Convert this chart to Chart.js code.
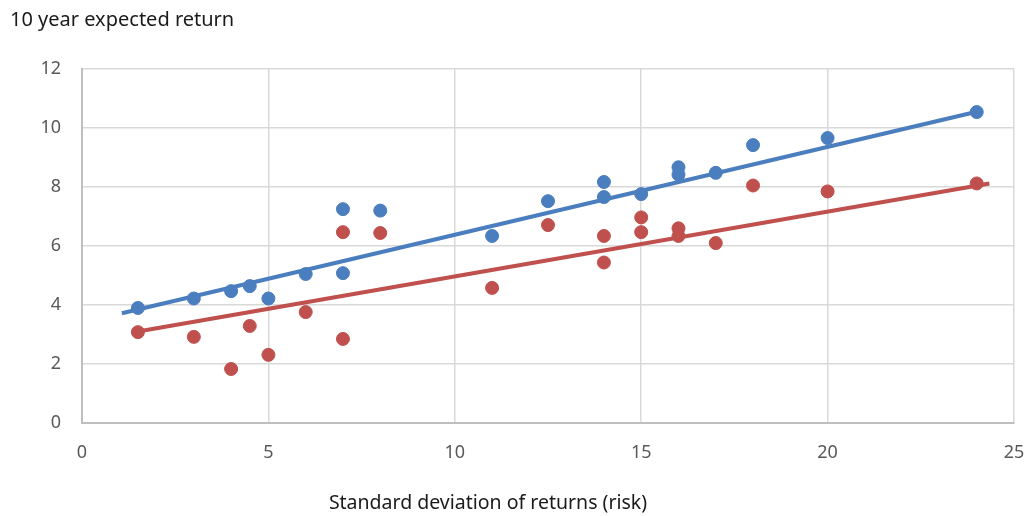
<!DOCTYPE html>
<html>
<head>
<meta charset="utf-8">
<script src="https://cdn.jsdelivr.net/npm/chart.js@4.4.1/dist/chart.umd.min.js"></script>
<style>
  html, body { margin: 0; padding: 0; background: #fff; }
  #wrap { width: 1030px; height: 516px; position: relative; }
</style>
</head>
<body>
<div id="wrap"><canvas id="risk-return"></canvas></div>
<script>
// Risk (x) and expected return (y)
const riskBlue = [1.5, 3, 4, 4.5, 5, 6, 7, 7, 8, 11, 12.5, 14, 14, 15, 16, 16, 17, 18, 20, 24];
const returnBlue = [3.9, 4.22, 4.47, 4.64, 4.22, 5.05, 7.25, 5.08, 7.2, 6.34, 7.52, 8.17, 7.66, 7.76, 8.67, 8.42, 8.48, 9.42, 9.66, 10.54];
const riskRed = [1.5, 3, 4, 4.5, 5, 6, 7, 7, 8, 11, 12.5, 14, 14, 15, 15, 16, 16, 17, 18, 20, 24];
const returnRed = [3.08, 2.92, 1.83, 3.29, 2.31, 3.76, 6.47, 2.85, 6.44, 4.58, 6.71, 6.34, 5.44, 6.97, 6.47, 6.6, 6.34, 6.1, 8.05, 7.85, 8.12];
// Trend line end points
const trendBlueX = [1.07, 24];
const trendBlueY = [3.72, 10.55];
const trendRedX = [1.5, 24.34];
const trendRedY = [3.1, 8.12];
// Axis labels
const xTicks = [0, 5, 10, 15, 20, 25];
const yTicks = [0, 2, 4, 6, 8, 10, 12];
const yTitle = '10 year expected return';
const xTitle = 'Standard deviation of returns (risk)';

const BLUE = '#4a7ebf';
const RED = '#c0504d';
const FONT = "'Noto Sans', 'Open Sans', sans-serif";

const toPoints = (xs, ys) => xs.map((x, i) => ({ x, y: ys[i] }));

const ctx = document.getElementById('risk-return');
// eslint-disable-next-line no-unused-vars
const chart = new Chart(ctx, {
  type: 'scatter',
  data: {
    datasets: [
      {
        label: 'Trend blue',
        type: 'line',
        data: toPoints(trendBlueX, trendBlueY),
        borderColor: BLUE,
        borderWidth: 4,
        pointRadius: 0,
        order: 0,
      },
      {
        label: 'Trend red',
        type: 'line',
        data: toPoints(trendRedX, trendRedY),
        borderColor: RED,
        borderWidth: 4,
        pointRadius: 0,
        order: 0,
      },
      {
        label: 'Blue',
        data: toPoints(riskBlue, returnBlue),
        backgroundColor: BLUE,
        borderColor: BLUE,
        pointRadius: 6.5,
        order: 1,
      },
      {
        label: 'Red',
        data: toPoints(riskRed, returnRed),
        backgroundColor: RED,
        borderColor: RED,
        pointRadius: 6.5,
        order: 1,
      },
    ],
  },
  options: {
    responsive: true,
    maintainAspectRatio: false,
    animation: false,
    layout: {
      padding: { top: 69, right: 16, bottom: 0, left: 0 },
    },
    scales: {
      x: {
        type: 'linear',
        min: 0,
        max: 25,
        afterFit: (scale) => {
          scale.height = 93;
          // keep the plot edge fixed, labels may overhang the padding
          scale.paddingLeft = 0;
          scale.paddingRight = 0;
        },
        afterBuildTicks: (scale) => { scale.ticks = xTicks.map((v) => ({ value: v })); },
        grid: { color: '#d9d9d9', lineWidth: 1.5, drawTicks: false },
        border: { color: '#bfbfbf', width: 2 },
        ticks: {
          padding: 19,
          color: '#595959',
          font: { family: FONT, size: 18 },
        },
      },
      y: {
        min: 0,
        max: 12,
        afterFit: (scale) => { scale.width = 82; },
        afterBuildTicks: (scale) => { scale.ticks = yTicks.map((v) => ({ value: v })); },
        grid: { color: '#d9d9d9', lineWidth: 1.5, drawTicks: false },
        border: { color: '#bfbfbf', width: 2 },
        ticks: {
          padding: 21,
          color: '#595959',
          font: { family: FONT, size: 18 },
        },
      },
    },
    plugins: {
      legend: { display: false },
      tooltip: { enabled: false },
    },
  },
  plugins: [{
    id: 'axisTexts',
    afterDraw(c) {
      const g = c.ctx;
      g.save();
      g.fillStyle = '#1a1a1a';
      g.textBaseline = 'middle';
      g.textAlign = 'left';
      g.font = `20px ${FONT}`;
      g.fillText(yTitle, 10, 20);
      g.textAlign = 'center';
      g.font = `19.5px ${FONT}`;
      g.fillText(xTitle, 488, 503);
      g.restore();
    },
  }],
});
</script>
</body>
</html>
